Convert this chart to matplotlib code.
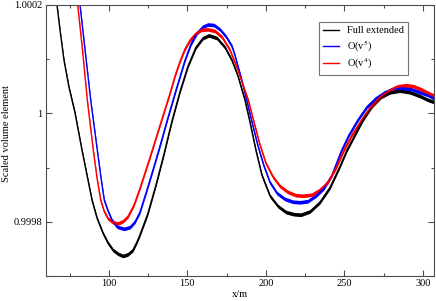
import numpy as np
import matplotlib
matplotlib.use("Agg")
import matplotlib.pyplot as plt

plt.rcParams['font.family'] = ['Liberation Serif', 'DejaVu Serif']
plt.rcParams['mathtext.fontset'] = 'stix'

# values
full_x = [65.73, 67.0, 68.91, 71.45, 74.63, 78.45, 82.91, 86.09, 89.27, 92.45, 96.27, 99.45,
          102.63, 105.81, 108.99, 112.17, 115.35, 117.90, 119.81, 124.90, 129.99, 135.08,
          140.17, 145.26, 150.35, 155.44, 159.89, 163.71, 168.80, 173.89, 178.34, 182.16,
          186.61, 189.80, 193.61, 197.43, 202.52, 207.61, 212.70, 217.79, 222.24, 227.97,
          234.33, 240.70, 247.06, 251.51, 256.60, 261.69, 267.42, 273.14, 278.87, 285.23,
          291.6, 297.96, 303.05, 306.87]
full_y = [1.000218, 1.000200, 1.000154, 1.000098, 1.000048, 1.000001, 0.999932, 0.999886,
          0.999840, 0.999807, 0.999779, 0.999761, 0.999748, 0.999741, 0.999737, 0.999740,
          0.999748, 0.999763, 0.999776, 0.999816, 0.999868, 0.999925, 0.999986, 1.000040,
          1.000087, 1.000122, 1.000139, 1.000144, 1.000139, 1.000122, 1.000098, 1.000069,
          1.0000245, 0.999984, 0.999932, 0.999886, 0.999848, 0.999829, 0.999818, 0.999814,
          0.999813, 0.999819, 0.999836, 0.999863, 0.999902, 0.999932, 0.999960, 0.999988,
          1.000013, 1.000030, 1.000039, 1.000042, 1.000039, 1.000032, 1.000025, 1.000021]

v5_x = [81.0, 81.63, 85.0, 88.44, 92.64, 94.99, 97.09, 99.45, 101.99, 105.17, 109.63,
        113.45, 116.63, 119.81, 124.26, 128.72, 132.85, 137.18, 142.71, 148.44, 152.26,
        156.07, 159.89, 163.07, 166.89, 170.71, 174.53, 178.34, 180.25, 184.07, 187.70,
        191.07, 194.89, 198.70, 202.52, 206.97, 212.06, 217.15, 221.61, 226.70, 231.79,
        236.88, 241.97, 248.14, 252.78, 258.51, 264.24, 269.96, 275.69, 280.78, 286.50,
        292.23, 297.96, 303.05, 306.87]
v5_y = [1.000218, 1.000200, 1.000113, 1.0000245, 0.999932, 0.999881, 0.999840, 0.999820,
        0.999803, 0.999791, 0.999787, 0.999790, 0.999800, 0.999818, 0.999859, 0.999902,
        0.999943, 0.999988, 1.000043, 1.000098, 1.000128, 1.000148, 1.000160, 1.000164,
        1.000163, 1.000155, 1.000142, 1.000124, 1.000107, 1.000067, 1.0000245, 0.999984,
        0.999940, 0.999903, 0.999873, 0.999853, 0.999842, 0.999837, 0.999836, 0.999838,
        0.999848, 0.999862, 0.999886, 0.999932, 0.999960, 0.999988, 1.000012, 1.000028,
        1.000039, 1.000045, 1.000047, 1.000045, 1.000039, 1.000034, 1.000028]

v4_x = [79.41, 80.17, 83.22, 86.28, 90.09, 92.45, 94.80, 96.90, 99.45, 102.63, 105.81,
        108.99, 112.17, 115.99, 119.81, 126.17, 133.61, 138.90, 142.08, 145.26, 148.44,
        151.62, 154.80, 158.62, 163.07, 167.53, 171.98, 177.07, 182.16, 185.98, 188.71,
        192.34, 196.16, 199.98, 204.43, 208.88, 213.97, 219.06, 223.52, 229.24, 234.33,
        239.42, 244.51, 249.60, 254.69, 260.86, 266.15, 272.51, 278.87, 283.96, 289.05,
        294.14, 299.23, 303.05, 306.87]
v4_y = [1.000218, 1.000200, 1.000117, 1.0000245, 0.999932, 0.999881, 0.999840, 0.999820,
        0.999806, 0.999799, 0.999797, 0.999801, 0.999810, 0.999831, 0.999862, 0.999919,
        0.999988, 1.000037, 1.000069, 1.000096, 1.000119, 1.000135, 1.000146, 1.000154,
        1.000155, 1.000152, 1.000141, 1.000117, 1.000080, 1.000047, 1.0000245, 0.999984,
        0.999942, 0.999908, 0.999883, 0.999866, 0.999855, 0.999849, 0.999848, 0.999850,
        0.999859, 0.999873, 0.999899, 0.999932, 0.999960, 0.999988, 1.000010, 1.000030,
        1.000043, 1.000050, 1.000052, 1.000050, 1.000044, 1.000038, 1.000033]

series = [
    (full_x, full_y, "black", "Full extended"),
    (v5_x, v5_y, "blue", r"O(v$^5$)"),
    (v4_x, v4_y, "red", r"O(v$^4$)"),
]

fig = plt.figure(figsize=(4.36, 3.01), dpi=100)
ax = fig.add_axes([0.1055, 0.083, 0.89, 0.9004])

band = 3.4e-6  # the curves look like a thin noisy band
for xs, ys, c, lab in series:
    xs = np.array(xs)
    ys = np.array(ys)
    ax.fill_between(xs, ys - band, ys + band, color=c, lw=0)
    ax.plot(xs, ys, color=c, lw=1.0, label=lab, solid_joinstyle="round")

ax.set_xlim(60, 307)
ax.set_ylim(0.9997, 1.0002)
ax.set_xticks([100, 150, 200, 250, 300])
ax.set_xticks(np.arange(75, 307, 25), minor=True)
ax.set_yticks([0.9998, 1.0, 1.0002])
ax.set_yticklabels(["0.9998", "1", "1.0002"])
ax.set_yticks([0.9997, 0.9999, 1.0001], minor=True)
ax.tick_params(which="both", direction="in", top=True, right=True, labelsize=7.5,
               color="0.3", pad=2.5)
ax.tick_params(which="major", length=4.5, width=0.8)
ax.tick_params(which="minor", length=2.2, width=0.8)
for s in ax.spines.values():
    s.set_color("0.3")

ax.set_xlabel("x/m", fontsize=7.5, labelpad=1)
fig.text(7 / 436, 1 - 133 / 301, "Scaled volume element", fontsize=7.5,
         rotation=90, ha="center", va="center")

leg = ax.legend(loc="upper right", bbox_to_anchor=(408 / 436, 1 - 22 / 301),
                bbox_transform=fig.transFigure, borderaxespad=0, fontsize=7.5,
                fancybox=False, frameon=True, edgecolor="0.3", handlelength=1.5,
                handletextpad=0.8, borderpad=0.4, labelspacing=0.3)
leg.get_frame().set_linewidth(0.8)

fig.savefig("out.png", dpi=100)
